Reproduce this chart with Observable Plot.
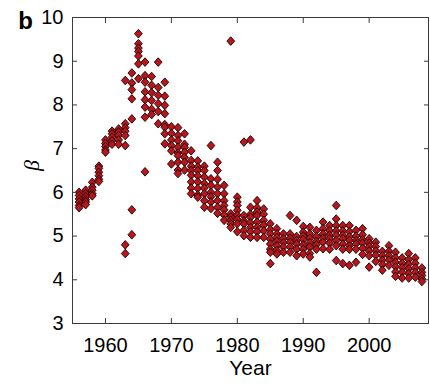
<!DOCTYPE html>
<html>
<head>
<meta charset="utf-8">
<script src="https://cdn.jsdelivr.net/npm/d3@7"></script>
<script src="https://cdn.jsdelivr.net/npm/@observablehq/plot@0.6"></script>
<style>
  html, body { margin: 0; padding: 0; background: #fff; }
  #chart { width: 430px; height: 387px; }
</style>
</head>
<body>
<div id="chart"></div>
<script>
const years = d3.range(1956, 2009);
const betaByYear = [
  [6.0, 5.93, 5.85, 5.78, 5.7, 5.65],
  [6.05, 5.97, 5.9, 5.83, 5.78, 5.72],
  [6.23, 6.12, 6.05, 5.97, 5.92],
  [6.6, 6.55, 6.46, 6.38, 6.3, 6.25],
  [7.2, 7.12, 7.05, 6.97, 6.92],
  [7.4, 7.34, 7.26, 7.18, 7.1],
  [7.45, 7.38, 7.3, 7.2, 7.1],
  [8.56, 7.57, 7.48, 7.4, 7.3, 7.07, 4.8, 4.6],
  [8.73, 8.5, 8.35, 8.14, 7.68, 5.6, 5.03],
  [9.63, 9.4, 9.3, 9.22, 9.12, 8.94, 8.6],
  [8.98, 8.67, 8.52, 8.3, 8.12, 7.95, 7.72, 6.47],
  [8.65, 8.45, 8.28, 8.1, 7.9, 7.78],
  [8.98, 8.4, 8.22, 8.03, 7.85, 7.57],
  [8.52, 8.2, 7.99, 7.8, 7.55, 7.49, 7.34, 7.11],
  [7.5, 7.35, 7.2, 7.07, 6.95, 6.65],
  [7.48, 7.3, 7.18, 7.03, 6.9, 6.84, 6.69, 6.51, 6.43],
  [7.34, 7.1, 7.03, 6.92, 6.8, 6.69, 6.51],
  [6.95, 6.73, 6.6, 6.5, 6.39, 6.24, 6.1, 5.97],
  [6.72, 6.58, 6.5, 6.38, 6.24, 6.09, 5.94, 5.89],
  [6.6, 6.5, 6.35, 6.2, 6.1, 5.97, 5.81, 5.66],
  [7.07, 6.31, 6.16, 6.0, 5.9, 5.78, 5.63],
  [6.69, 6.5, 6.3, 6.12, 5.97, 5.81, 5.66, 5.52],
  [6.16, 5.97, 5.81, 5.7, 5.6, 5.48, 5.36],
  [9.46, 5.51, 5.43, 5.36, 5.28, 5.2],
  [5.89, 5.78, 5.7, 5.59, 5.48, 5.38, 5.28, 5.1],
  [7.15, 5.47, 5.35, 5.28, 5.13, 5.01],
  [7.2, 5.66, 5.5, 5.43, 5.3, 5.2, 5.1, 4.97],
  [5.81, 5.65, 5.55, 5.47, 5.32, 5.2, 5.1, 4.97],
  [5.62, 5.5, 5.36, 5.25, 5.12, 4.97],
  [5.28, 5.15, 5.05, 4.93, 4.82, 4.7, 4.63, 4.37],
  [5.17, 5.05, 4.97, 4.88, 4.78, 4.67, 4.59],
  [5.05, 4.94, 4.85, 4.75, 4.63],
  [5.47, 5.05, 4.95, 4.86, 4.75, 4.63],
  [5.36, 4.99, 4.9, 4.82, 4.7, 4.55],
  [5.22, 5.09, 5.0, 4.92, 4.8, 4.7, 4.59],
  [5.2, 5.05, 4.95, 4.85, 4.75, 4.6, 4.52],
  [5.13, 4.99, 4.88, 4.8, 4.7, 4.17],
  [5.32, 5.17, 5.05, 4.95, 4.86, 4.71],
  [5.24, 5.12, 5.02, 4.94, 4.84, 4.7],
  [5.7, 5.39, 5.24, 5.12, 5.02, 4.9, 4.78, 4.44],
  [5.24, 5.12, 5.02, 4.94, 4.82, 4.7, 4.37],
  [5.24, 5.1, 4.98, 4.9, 4.78, 4.7, 4.33],
  [5.13, 5.0, 4.9, 4.82, 4.7, 4.4],
  [5.17, 5.03, 4.92, 4.84, 4.72, 4.58],
  [4.94, 4.84, 4.76, 4.66, 4.55, 4.29],
  [4.86, 4.76, 4.66, 4.56, 4.42],
  [4.65, 4.55, 4.45, 4.35, 4.22],
  [4.78, 4.65, 4.55, 4.45, 4.33],
  [4.63, 4.5, 4.4, 4.3, 4.18, 4.08],
  [4.5, 4.38, 4.28, 4.17, 4.04],
  [4.6, 4.46, 4.35, 4.25, 4.14, 4.04],
  [4.5, 4.38, 4.27, 4.17, 4.06],
  [4.27, 4.17, 4.1, 4.02, 3.96]
];
const xTicks = [1960, 1970, 1980, 1990, 2000];
const yTicks = [3, 4, 5, 6, 7, 8, 9, 10];

const data = years.flatMap((year, i) => betaByYear[i].map(beta => ({year, beta})));

const matlabDiamond = {
  draw(ctx, size) {
    const h = Math.sqrt(size) * 0.64;
    const w = h * 0.9;
    ctx.moveTo(0, -h);
    ctx.lineTo(w, 0);
    ctx.lineTo(0, h);
    ctx.lineTo(-w, 0);
    ctx.closePath();
  }
};

const font = "'Liberation Sans', Arial, Helvetica, sans-serif";

const chart = Plot.plot({
  width: 430,
  height: 387,
  marginLeft: 72,
  marginRight: 2,
  marginTop: 17,
  marginBottom: 64,
  x: {domain: [1955, 2009]},
  y: {domain: [3, 10]},
  style: {fontFamily: font, fontSize: "20px", color: "#000", background: "#fff", overflow: "visible"},
  marks: [
    Plot.dot(data, {x: "year", y: "beta", symbol: matlabDiamond, r: 3.8, fill: "#b8161c", stroke: "#1a0000", strokeWidth: 0.9}),
    Plot.frame({stroke: "#3a3a3a", strokeWidth: 1}),
    Plot.axisX({ticks: xTicks, tickSize: -5, tickPadding: 19, tickFormat: d => String(d), label: null, stroke: "#3a3a3a", fontSize: 20}),
    Plot.axisX({anchor: "top", ticks: xTicks, tickSize: -5, tickFormat: () => "", label: null, stroke: "#3a3a3a"}),
    Plot.axisY({ticks: yTicks, tickSize: -5, tickPadding: 14, tickFormat: d => String(d), label: null, stroke: "#3a3a3a", fontSize: 20}),
    Plot.axisY({anchor: "right", ticks: yTicks, tickSize: -5, tickFormat: () => "", label: null, stroke: "#3a3a3a"}),
    Plot.text(["Year"], {frameAnchor: "bottom", dy: 45, text: d => d, textAnchor: "middle", lineAnchor: "middle", fontSize: 21}),
    Plot.text(["β"], {frameAnchor: "left", dx: -41, dy: -5, text: d => d, rotate: -90, textAnchor: "middle", lineAnchor: "middle", fontSize: 22, fontStyle: "italic", fontFamily: "'Liberation Serif', 'DejaVu Serif', serif"}),
    Plot.text(["b"], {frameAnchor: "top-left", dx: -47, dy: 4, text: d => d, textAnchor: "middle", lineAnchor: "middle", fontSize: 24, fontWeight: "bold"})
  ]
});
document.getElementById("chart").appendChild(chart);
</script>
</body>
</html>
